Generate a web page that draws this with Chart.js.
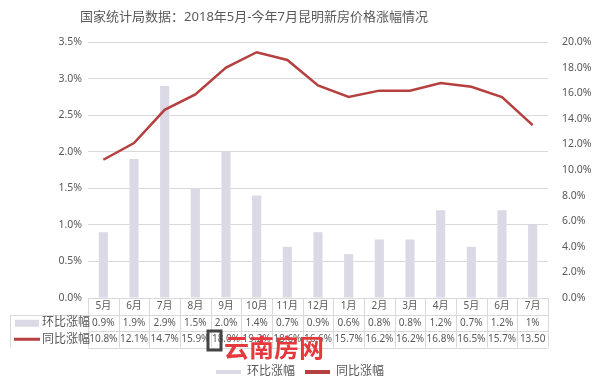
<!DOCTYPE html>
<html>
<head>
<meta charset="utf-8">
<script src="https://cdn.jsdelivr.net/npm/chart.js@4/dist/chart.umd.min.js"></script>
<style>
  html, body { margin: 0; padding: 0; background: #fff; }
  #wrap { width: 600px; height: 388px; }
</style>
</head>
<body>
<div id="wrap"><canvas id="c"></canvas></div>
<script>
const months = ['5月', '6月', '7月', '8月', '9月', '10月', '11月', '12月', '1月', '2月', '3月', '4月', '5月', '6月', '7月'];
const momValues = [0.9, 1.9, 2.9, 1.5, 2.0, 1.4, 0.7, 0.9, 0.6, 0.8, 0.8, 1.2, 0.7, 1.2, 1.0];
const momLabels = ['0.9%', '1.9%', '2.9%', '1.5%', '2.0%', '1.4%', '0.7%', '0.9%', '0.6%', '0.8%', '0.8%', '1.2%', '0.7%', '1.2%', '1%'];
const yoyValues = [10.8, 12.1, 14.7, 15.9, 18.0, 19.2, 18.6, 16.6, 15.7, 16.2, 16.2, 16.8, 16.5, 15.7, 13.5];
const yoyLabels = ['10.8%', '12.1%', '14.7%', '15.9%', '18.0%', '19.2%', '18.6%', '16.6%', '15.7%', '16.2%', '16.2%', '16.8%', '16.5%', '15.7%', '13.50'];
const titleText = '国家统计局数据：2018年5月-今年7月昆明新房价格涨幅情况';

const FONT = '"Noto Sans", "Noto Sans CJK SC", sans-serif';
const TXT = '#595959';
const GRID = '#d9d9d9';
const BAR = '#dcd9e6';
const LINE = '#b5403f';

// title (sits left of centre in the original) + data table under the plot
const tablePlugin = {
  id: 'dataTable',
  afterDraw(chart) {
    const { ctx, chartArea, scales } = chart;
    const x = scales.x;
    const top = chartArea.bottom;
    const rowH = 16.5;
    const left = 10;
    const step = x.getPixelForValue(1) - x.getPixelForValue(0);
    ctx.save();

    ctx.fillStyle = TXT;
    ctx.font = '13px ' + FONT;
    ctx.textAlign = 'center';
    ctx.textBaseline = 'middle';
    ctx.fillText(titleText, 254, 17);

    ctx.strokeStyle = GRID;
    ctx.lineWidth = 1;
    ctx.beginPath();
    for (let r = 1; r <= 3; r++) {
      const y = Math.round(top + r * rowH) + 0.5;
      ctx.moveTo(r === 1 ? left : chartArea.left, y);
      ctx.lineTo(chartArea.right, y);
    }
    ctx.moveTo(left + 0.5, top + rowH);
    ctx.lineTo(left + 0.5, top + 3 * rowH);
    for (let i = 0; i <= months.length; i++) {
      const xx = Math.round(chartArea.left + i * step) + 0.5;
      ctx.moveTo(xx, top);
      ctx.lineTo(xx, top + 3 * rowH);
    }
    ctx.stroke();

    ctx.fillStyle = TXT;
    ctx.font = '10px ' + FONT;
    months.forEach((m, i) => {
      const cx = x.getPixelForValue(i);
      ctx.fillText(m, cx, top + rowH * 0.5);
      ctx.fillText(momLabels[i], cx, top + rowH * 1.5);
      ctx.fillText(yoyLabels[i], cx, top + rowH * 2.5);
    });

    ctx.fillStyle = BAR;
    ctx.fillRect(15, top + rowH * 1.5 - 3, 24, 7);
    ctx.strokeStyle = LINE;
    ctx.lineWidth = 3;
    ctx.beginPath();
    ctx.moveTo(14, top + rowH * 2.5);
    ctx.lineTo(40, top + rowH * 2.5);
    ctx.stroke();
    ctx.fillStyle = TXT;
    ctx.font = '12px ' + FONT;
    ctx.textAlign = 'left';
    ctx.fillText('环比涨幅', 42, top + rowH * 1.5);
    ctx.fillText('同比涨幅', 42, top + rowH * 2.5);

    // site watermark
    ctx.strokeStyle = '#444';
    ctx.lineWidth = 3;
    ctx.strokeRect(208, 331, 13, 19);
    ctx.fillStyle = '#e5393d';
    ctx.font = 'bold 25px "Noto Sans CJK SC", sans-serif';
    ctx.textBaseline = 'alphabetic';
    ctx.fillText('云南房网', 224, 357);
    ctx.restore();
  }
};

new Chart(document.getElementById('c'), {
  data: {
    labels: months,
    datasets: [
      {
        type: 'line',
        label: '同比涨幅',
        data: yoyValues,
        yAxisID: 'y1',
        borderColor: LINE,
        backgroundColor: LINE,
        borderWidth: 2.5,
        pointRadius: 0,
        tension: 0,
        order: 0
      },
      {
        type: 'bar',
        label: '环比涨幅',
        data: momValues,
        yAxisID: 'y',
        backgroundColor: BAR,
        categoryPercentage: 1,
        barPercentage: 0.3,
        order: 1
      }
    ]
  },
  options: {
    responsive: true,
    maintainAspectRatio: false,
    animation: false,
    layout: { padding: { top: 42 } },
    plugins: {
      title: { display: false },
      legend: {
        position: 'bottom',
        reverse: true,
        labels: {
          color: TXT,
          font: { family: FONT, size: 12 },
          boxWidth: 25,
          boxHeight: 4,
          padding: 10,
          generateLabels(chart) {
            return Chart.defaults.plugins.legend.labels.generateLabels(chart).map(l => {
              l.lineWidth = 0;
              return l;
            });
          }
        }
      },
      tooltip: { enabled: false }
    },
    scales: {
      x: {
        ticks: { display: false },
        grid: { display: false },
        border: { display: false },
        afterFit(s) { s.height = 58; }
      },
      y: {
        position: 'left',
        min: 0,
        max: 3.5,
        ticks: {
          stepSize: 0.5,
          color: TXT,
          font: { family: FONT, size: 10.5 },
          padding: 6,
          callback: v => v.toFixed(1) + '%'
        },
        grid: { color: GRID, drawTicks: false },
        border: { display: false },
        afterFit(s) { s.width = 88; }
      },
      y1: {
        position: 'right',
        min: 0,
        max: 20,
        ticks: {
          stepSize: 2,
          color: TXT,
          font: { family: FONT, size: 10.5 },
          padding: 6,
          callback: v => v.toFixed(1) + '%'
        },
        grid: { display: false },
        border: { display: false },
        afterFit(s) { s.width = 52; }
      }
    }
  },
  plugins: [tablePlugin]
});
</script>
</body>
</html>
